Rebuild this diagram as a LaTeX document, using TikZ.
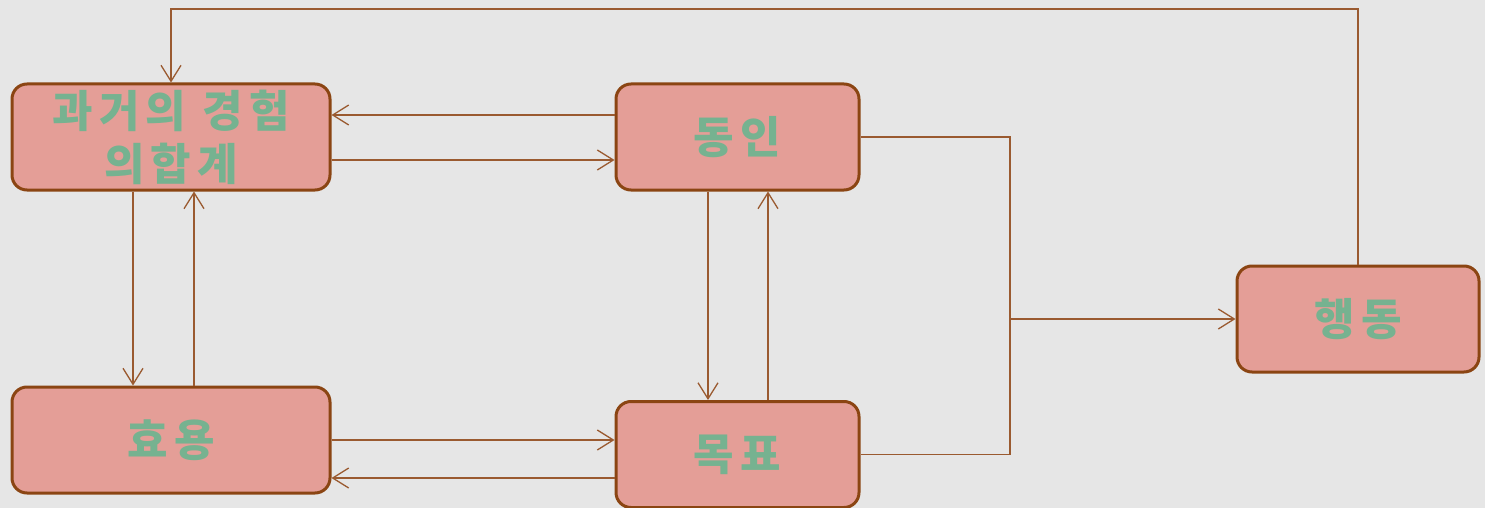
\documentclass[tikz,border=0pt]{standalone}
\usepackage{fontspec}
\newfontfamily\kr{Noto Sans CJK KR}[LetterSpace=14]
\usetikzlibrary{arrows.meta}
\definecolor{bg}{HTML}{E6E6E6}
\definecolor{boxfill}{HTML}{E49E97}
\definecolor{boxline}{HTML}{8B4513}
\definecolor{conn}{HTML}{9A5A30}
\definecolor{txt}{HTML}{76B290}
\tikzset{
  box/.style={draw=boxline, line width=3pt, fill=boxfill, rounded corners=15pt,
    minimum width=#1, minimum height=106pt, inner sep=0pt,
    font=\kr\bfseries\fontsize{44}{53}\selectfont, text=txt, align=center},
  conn/.style={draw=conn, line width=1.3pt, -{Straight Barb[length=16pt,width=20pt,line width=1.3pt]}},
  plain/.style={draw=conn, line width=1.3pt}
}
\begin{document}
\begin{tikzpicture}[x=1pt,y=-1pt]
\useasboundingbox[fill=bg] (0,0) rectangle (1485,508);
\node[box=318pt] (A) at (171,137) {과거의 경험\\의합계};
\node[box=243pt] (B) at (737.5,137) {동인};
\node[box=318pt] (C) at (171,440) {효용};
\node[box=243pt] (D) at (737.5,454.5) {목표};
\node[box=242pt] (E) at (1358,319) {행동};
% A <-> B
\coordinate (b1) at ([yshift=22pt]B.west);
\coordinate (a2) at ([yshift=-23pt]A.east);
\draw[conn] (b1) -- (b1 -| A.east);
\draw[conn] (a2) -- (a2 -| B.west);
% A <-> C
\coordinate (a3) at ([xshift=-38pt]A.south);
\coordinate (c3) at ([xshift=23pt]C.north);
\draw[conn] (a3) -- (a3 |- C.north);
\draw[conn] (c3) -- (c3 |- A.south);
% B <-> D
\coordinate (b4) at ([xshift=-29.5pt]B.south);
\coordinate (d4) at ([xshift=30.5pt]D.north);
\draw[conn] (b4) -- (b4 |- D.north);
\draw[conn] (d4) -- (d4 |- B.south);
% C <-> D
\draw[conn] (C.east) -- (C.east -| D.west);
\coordinate (d5) at ([yshift=-23.5pt]D.west);
\draw[conn] (d5) -- (d5 -| C.east);
% B, D -> E
\coordinate (j1) at (1010,137);
\coordinate (j2) at (j1 |- D.east);
\coordinate (jm) at (j1 |- E.west);
\draw[plain] (B.east) -- (j1) -- (j2) -- (D.east);
\draw[conn] (jm) -- (E.west);
% E -> A
\coordinate (t1) at (1358,9);
\coordinate (t2) at (171,9);
\draw[conn] (E.north) -- (t1) -- (t2) -- (A.north);
\end{tikzpicture}
\end{document}
